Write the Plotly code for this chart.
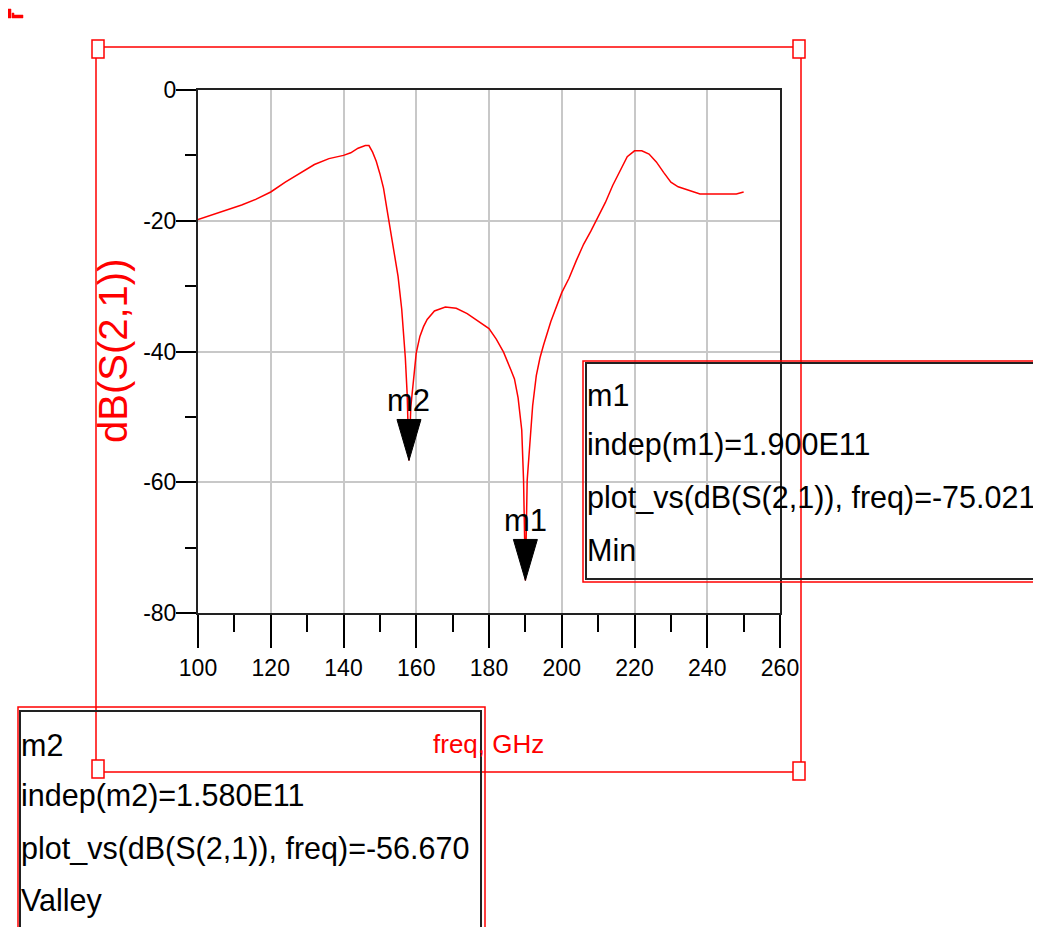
import plotly.graph_objects as go

# ---------------- data ----------------
freq_ghz = [100, 104, 108, 112, 116, 120, 124, 128, 132, 136, 140, 142, 144, 146, 147,
            148, 149, 150, 151, 152, 153, 154, 155, 156, 157, 157.5, 158, 158.5, 159,
            159.5, 160, 161, 162, 163, 165, 168, 171, 174, 177, 180, 182, 184, 186,
            187, 188, 189, 189.5, 190, 190.5, 191, 192, 193, 194, 195, 197, 200, 202,
            204, 206, 208, 210, 212, 214, 216, 218, 220, 222, 224, 226, 228, 230, 232,
            234, 236, 238, 240, 244, 248, 250]
db_s21 = [-19.8, -19.1, -18.4, -17.6, -16.7, -15.6, -14.1, -12.7, -11.4, -10.5, -10.0,
          -9.6, -8.9, -8.5, -8.5, -9.5, -10.9, -12.8, -15.0, -18.4, -21.7, -25.0, -28.5,
          -33.5, -41.0, -46.5, -56.67, -48.5, -45.5, -43.5, -40.2, -37.7, -36.2, -35.1,
          -33.8, -33.2, -33.4, -34.2, -35.4, -36.5, -38.1, -40.1, -42.8, -44.2, -47.1,
          -52.0, -59.7, -75.021, -59.7, -55.5, -48.3, -43.7, -41.0, -39.0, -35.4, -31.0,
          -28.8, -26.1, -23.6, -21.6, -19.4, -17.2, -14.6, -12.3, -10.2, -9.3, -9.3,
          -9.8, -11.0, -12.6, -14.1, -14.8, -15.2, -15.6, -15.9, -15.9, -15.9, -15.9,
          -15.6]

marker_names = ["m1", "m2"]
marker_freq = [190, 158]
marker_db = [-75.021, -56.670]
marker_indep = ["1.900E11", "1.580E11"]
marker_kind = ["Min", "Valley"]

x_tickvals = [100, 120, 140, 160, 180, 200, 220, 240, 260]
x_ticktext = ["100", "120", "140", "160", "180", "200", "220", "240", "260"]
x_minor = [110, 130, 150, 170, 190, 210, 230, 250]
y_tickvals = [0, -20, -40, -60, -80]
y_ticktext = ["0", "-20", "-40", "-60", "-80"]
y_minor = [-10, -30, -50, -70]

# ---------------- layout helpers ----------------
OFF = 8                      # default page (body) margin
W, H = 1041 - OFF, 927 - OFF
L, R, T, B = 198, 780, 90, 613   # plot area in page pixels
PW, PH = R - L, B - T


def px(xp):
    return (xp - L) / PW


def py(yp):
    return (B - yp) / PH


SANS = "Liberation Sans, Arial, sans-serif"
RED = "#ff0000"
BOX_FONT = 30.5

fig = go.Figure()
fig.add_trace(go.Scatter(x=freq_ghz, y=db_s21, mode="lines",
                         line=dict(color=RED, width=1.5), hoverinfo="skip",
                         showlegend=False))

shapes = []
annotations = []

# marker triangles + labels (anchored at marker data)
for name, mf, md in zip(marker_names, marker_freq, marker_db):
    shapes.append(dict(type="path", xref="x", yref="y", xsizemode="pixel",
                       ysizemode="pixel", xanchor=mf, yanchor=md,
                       path="M -12,41 L 12,41 L 0,0 Z", fillcolor="black",
                       line=dict(color="black", width=1)))
    annotations.append(dict(x=mf, y=md, xref="x", yref="y", text=name,
                            showarrow=False, yanchor="bottom", xanchor="center",
                            yshift=40, font=dict(family=SANS, size=31, color="black")))

# selection frame
shapes.append(dict(type="rect", xref="paper", yref="paper", x0=px(96), x1=px(801),
                   y0=py(772), y1=py(47), line=dict(color=RED, width=1.5)))
for cx, cy in [(98, 49), (799, 49), (98, 769), (799, 771)]:
    shapes.append(dict(type="rect", xref="paper", yref="paper", x0=px(cx - 6),
                       x1=px(cx + 6), y0=py(cy + 9), y1=py(cy - 9),
                       fillcolor="white", line=dict(color=RED, width=1.5)))

# marker readout boxes
box_geo = {
    "m1": dict(red=(583, 1060, 361, 582), blk=(586, 1060, 363, 579),
               tx=585, lines_y=[395, 444, 497, 550]),
    "m2": dict(red=(18, 485, 707, 960), blk=(20, 481, 711, 960),
               tx=19, lines_y=[745, 795, 848, 900]),
}
for name, ind, val, kind in zip(marker_names, marker_indep, marker_db, marker_kind):
    g = box_geo[name]
    x0, x1, y0, y1 = g["red"]
    shapes.append(dict(type="rect", xref="paper", yref="paper", x0=px(x0), x1=px(x1),
                       y0=py(y1), y1=py(y0), line=dict(color=RED, width=1.5)))
    x0, x1, y0, y1 = g["blk"]
    shapes.append(dict(type="rect", xref="paper", yref="paper", x0=px(x0), x1=px(x1),
                       y0=py(y1), y1=py(y0), line=dict(color="#222222", width=2)))
    texts = [name, f"indep({name})={ind}",
             f"plot_vs(dB(S(2,1)), freq)={val:.3f}", kind]
    for t, ly in zip(texts, g["lines_y"]):
        annotations.append(dict(x=px(g["tx"]), y=py(ly), xref="paper", yref="paper",
                                text=t, showarrow=False, xanchor="left",
                                yanchor="middle",
                                font=dict(family=SANS, size=BOX_FONT, color="black")))

# axis titles
annotations.append(dict(x=px(113), y=py(351), xref="paper", yref="paper",
                        text="dB(S(2,1))", textangle=-90, showarrow=False,
                        xanchor="center", yanchor="middle",
                        font=dict(family=SANS, size=40, color=RED)))
annotations.append(dict(x=px(488), y=py(744), xref="paper", yref="paper",
                        text="freq, GHz", showarrow=False, xanchor="center",
                        yanchor="middle", font=dict(family=SANS, size=26, color=RED)))

# tiny top-left icon
shapes.append(dict(type="path", xref="paper", yref="paper",
                   path=f"M {px(8)},{py(9)} L {px(11)},{py(9)} L {px(11)},{py(18)} "
                        f"L {px(8)},{py(18)} Z M {px(12)},{py(13)} L {px(14)},{py(13)} "
                        f"L {px(14)},{py(15)} L {px(23)},{py(15)} L {px(23)},{py(18)} "
                        f"L {px(12)},{py(18)} Z",
                   fillcolor=RED, line=dict(color=RED, width=0.5)))

axis_common = dict(showline=True, mirror=True, linecolor="#222222", linewidth=2,
                   showgrid=True, gridcolor="#c8c8c8", gridwidth=1.5, zeroline=False,
                   ticks="outside", tickcolor="black", tickwidth=1.5,
                   tickfont=dict(family=SANS, size=23, color="black"))

fig.update_layout(
    width=W, height=H, autosize=False,
    margin=dict(l=L - OFF, r=W - (R - OFF), t=T - OFF, b=H - (B - OFF), pad=0),
    paper_bgcolor="white", plot_bgcolor="white",
    showlegend=False,
    xaxis=dict(range=[100, 260], tickvals=x_tickvals, ticktext=x_ticktext,
               ticklen=33, minor=dict(tickvals=x_minor, ticks="outside", ticklen=17,
                                      tickcolor="black", tickwidth=1.5, showgrid=False),
               **axis_common),
    yaxis=dict(range=[-80, 0], tickvals=y_tickvals, ticktext=y_ticktext,
               ticklen=20, ticklabelstandoff=-5,
               minor=dict(tickvals=y_minor, ticks="outside", ticklen=11,
                          tickcolor="black", tickwidth=1.5, showgrid=False),
               **axis_common),
    shapes=shapes,
    annotations=annotations,
)

fig.write_html("out.html")
